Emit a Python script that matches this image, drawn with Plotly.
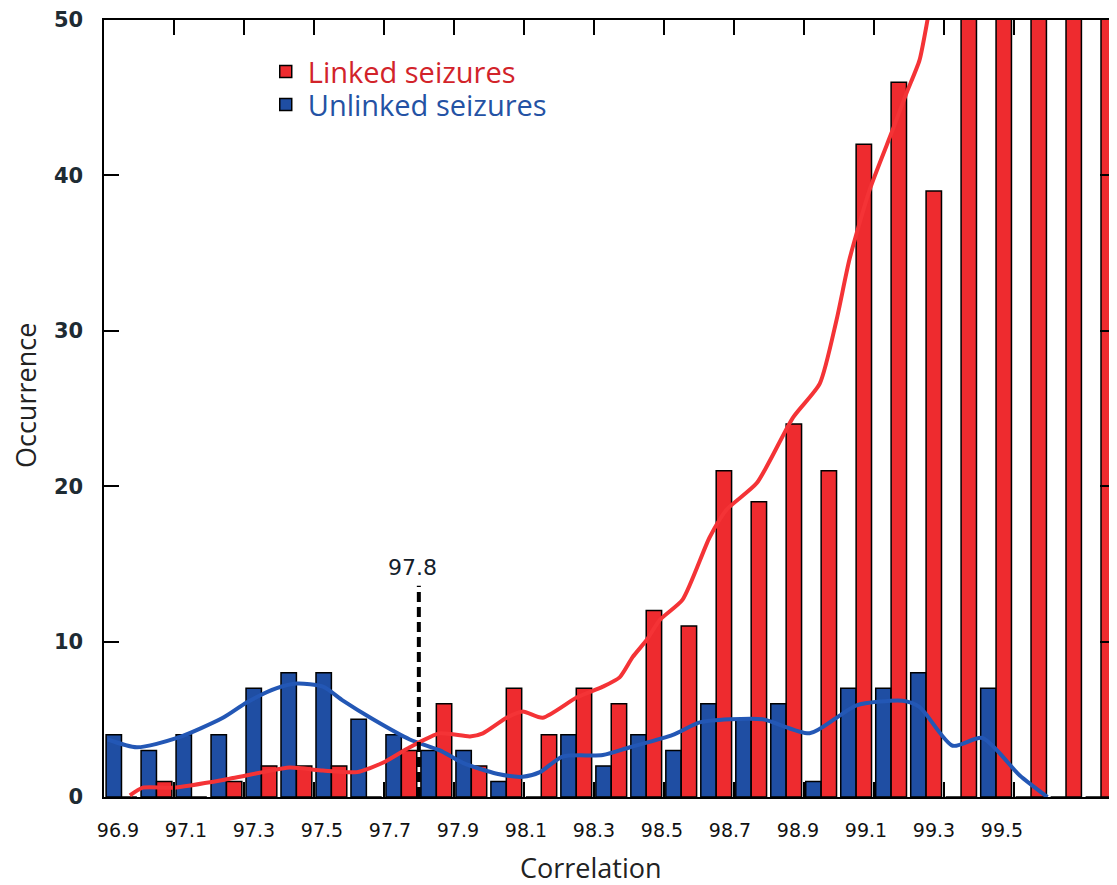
import plotly.graph_objects as go

# Bin centres (correlation, %), bin width 0.1
bins = [96.95, 97.05, 97.15, 97.25, 97.35, 97.45, 97.55, 97.65, 97.75, 97.85,
        97.95, 98.05, 98.15, 98.25, 98.35, 98.45, 98.55, 98.65, 98.75, 98.85,
        98.95, 99.05, 99.15, 99.25, 99.35, 99.45, 99.55, 99.65, 99.75]
linked = [0, 1, 0, 1, 2, 2, 2, 0, 3, 6,
          2, 7, 4, 7, 6, 12, 11, 21, 19, 24,
          21, 42, 46, 39, 62, 71, 80, 95, 110]
unlinked = [4, 3, 4, 4, 7, 8, 8, 5, 4, 3,
            3, 1, 0, 4, 2, 4, 3, 6, 5, 6,
            1, 7, 7, 8, 0, 7, 0, 0, 0]

# Smoothed density curves
linked_curve_x = [96.974, 97.011, 97.097, 97.240, 97.354, 97.431, 97.526, 97.623, 97.697,
                  97.774, 97.860, 97.946, 97.983, 98.051, 98.097, 98.154, 98.251, 98.326,
                  98.374, 98.411, 98.451, 98.489, 98.554, 98.631, 98.680, 98.766, 98.869,
                  98.946, 98.994, 99.031, 99.089, 99.154, 99.194, 99.231, 99.254, 99.266]
linked_curve_y = [0.1, 0.6, 0.6, 1.1, 1.6, 1.9, 1.7, 1.6, 2.2,
                  3.2, 4.1, 3.9, 4.1, 5.1, 5.5, 5.1, 6.4, 7.1,
                  7.7, 9.0, 10.1, 11.4, 12.7, 16.7, 18.5, 20.2, 24.4,
                  26.6, 30.7, 34.6, 39.1, 42.9, 45.3, 47.4, 50.0, 51.5]
unlinked_curve_x = [96.911, 96.994, 97.109, 97.240, 97.309, 97.394, 97.451, 97.526, 97.583,
                    97.669, 97.774, 97.860, 97.926, 98.023, 98.097, 98.146, 98.211, 98.326,
                    98.403, 98.526, 98.603, 98.689, 98.783, 98.917, 98.994, 99.051, 99.183,
                    99.231, 99.326, 99.411, 99.517, 99.597]
unlinked_curve_y = [3.7, 3.2, 3.8, 5.1, 6.1, 7.0, 7.3, 7.1, 6.2,
                    5.0, 3.7, 3.0, 2.2, 1.5, 1.3, 1.6, 2.6, 2.7,
                    3.2, 4.0, 4.8, 5.0, 5.0, 4.1, 5.1, 5.9, 6.2,
                    5.8, 3.3, 3.8, 1.4, 0.0]

x_ticks = [96.9, 97.1, 97.3, 97.5, 97.7, 97.9, 98.1, 98.3, 98.5, 98.7, 98.9, 99.1, 99.3, 99.5]
y_ticks = [0, 10, 20, 30, 40, 50]
threshold = 97.8
threshold_top = 13.6

RED = "#ee2b2f"
BLUE = "#1f4ea3"

fig = go.Figure()
fig.add_trace(go.Bar(
    x=bins, y=unlinked, name="<span style='color:#2452a4'>Unlinked seizures</span>",
    marker=dict(color=BLUE, line=dict(color="black", width=1.5)),
    showlegend=True, legend="legend2"))
fig.add_trace(go.Bar(
    x=bins, y=linked, name="<span style='color:#d2232a'>Linked seizures</span>",
    marker=dict(color=RED, line=dict(color="black", width=1.5)),
    showlegend=True, legend="legend"))
fig.add_trace(go.Scatter(
    x=unlinked_curve_x, y=unlinked_curve_y, mode="lines",
    line=dict(color="#2357b5", width=4, shape="spline", smoothing=0.7),
    showlegend=False, hoverinfo="skip"))
fig.add_trace(go.Scatter(
    x=linked_curve_x, y=linked_curve_y, mode="lines",
    line=dict(color="#f43336", width=4, shape="spline", smoothing=0.6),
    showlegend=False, hoverinfo="skip"))
# invisible trace carrying the tick-label axis (labels are drawn slightly offset in the original)
fig.add_trace(go.Scatter(
    x=x_ticks, y=[0] * len(x_ticks), xaxis="x2", mode="markers",
    marker=dict(opacity=0), showlegend=False, hoverinfo="skip"))

fig.add_shape(type="line", x0=threshold, x1=threshold, y0=0, y1=threshold_top,
              xref="x", yref="y", line=dict(color="black", width=4, dash="10px,5px"))
fig.add_annotation(x=threshold, y=threshold_top, text=str(threshold), showarrow=False,
                   yanchor="bottom", yshift=4, xshift=-6,
                   font=dict(family="DejaVu Sans", size=22, color="#14202a"))

fig.add_annotation(text="Correlation", xref="paper", yref="paper", x=(591 - 104) / 1011,
                   y=-(867 - 797) / 777, showarrow=False, xanchor="center", yanchor="middle",
                   font=dict(family="Open Sans", size=27, color="#222"))
fig.add_annotation(text="Occurrence", xref="paper", yref="paper", x=-(104 - 26) / 1011,
                   y=(797 - 396) / 777, showarrow=False, textangle=-90,
                   xanchor="center", yanchor="middle",
                   font=dict(family="Open Sans", size=27, color="#222"))

legend_common = dict(xanchor="left", yanchor="top", font=dict(family="Open Sans", size=29),
                     bgcolor="rgba(0,0,0,0)", itemwidth=34)
fig.update_layout(
    width=1109, height=877,
    margin=dict(l=96, r=2, t=12, b=88, autoexpand=False),
    paper_bgcolor="white", plot_bgcolor="white",
    barmode="group", bargap=0.12, bargroupgap=0.0,
    legend=dict(x=0.158, y=0.9665, **legend_common),
    legend2=dict(x=0.158, y=0.924, **legend_common),
    showlegend=True,
    xaxis2=dict(overlaying="x", side="bottom", range=[96.9 - 14 / 340, 96.9 + 1011 / 340 - 14 / 340],
                tickvals=x_ticks, ticktext=[f"{v:.1f}" for v in x_ticks],
                showline=False, showgrid=False, zeroline=False, ticks="",
                tickfont=dict(family="DejaVu Sans", size=19, color="#111"),
                ticklabelstandoff=20, automargin=False, fixedrange=True),
)
fig.layout.xaxis.update(
    range=[96.9, 99.79], tickvals=x_ticks, showticklabels=False,
    ticks="inside", ticklen=15, tickwidth=2, tickcolor="black",
    showline=True, linecolor="black", linewidth=2, mirror="ticks",
    showgrid=False, zeroline=False, automargin=False,
)
fig.update_yaxes(
    range=[0, 50], tickvals=y_ticks, ticktext=[f"{v}&nbsp;&nbsp;" for v in y_ticks],
    ticks="inside", ticklen=15, tickwidth=2, tickcolor="black",
    showline=True, linecolor="black", linewidth=2, mirror="ticks",
    showgrid=False, zeroline=False, automargin=False,
    tickfont=dict(family="DejaVu Sans", size=21, color="#1e2b33", weight="bold"),
)

fig.write_html("out.html")
